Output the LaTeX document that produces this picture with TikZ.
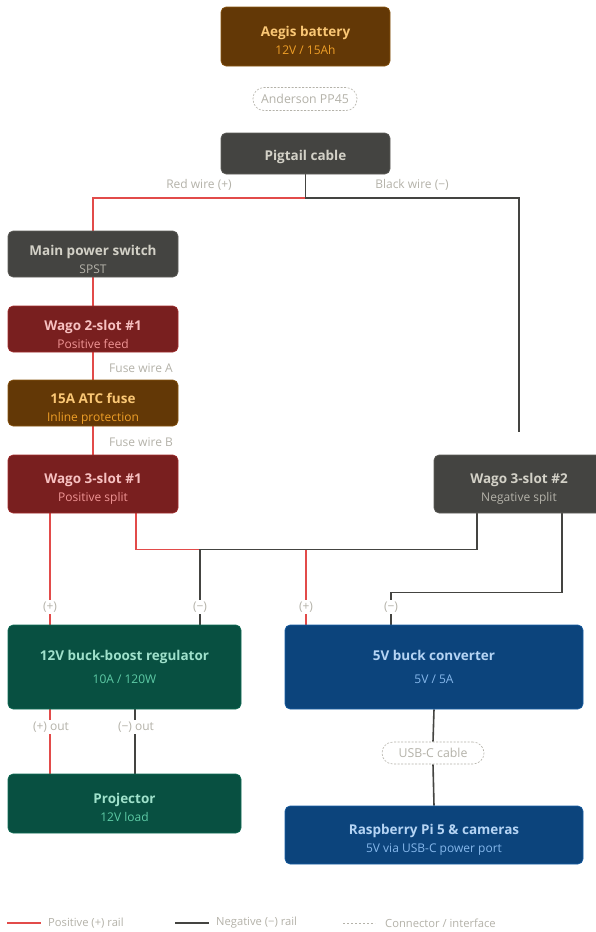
\documentclass[tikz,border=0pt]{standalone}
\usepackage{fontspec}
\setmainfont{Open Sans}
\usetikzlibrary{backgrounds,calc}
\definecolor{redline}{HTML}{E24B4A}
\definecolor{blkline}{HTML}{444441}
\definecolor{lbl}{HTML}{B4B2A9}
\definecolor{brownF}{HTML}{633806}\definecolor{brownD}{HTML}{8A5510}
\definecolor{brownT}{HTML}{FAC775}\definecolor{brownS}{HTML}{EF9F27}
\definecolor{grayF}{HTML}{444441}\definecolor{grayD}{HTML}{5F5E5A}
\definecolor{grayT}{HTML}{D3D1C7}\definecolor{grayS}{HTML}{B4B2A9}
\definecolor{redF}{HTML}{791F1F}\definecolor{redD}{HTML}{A32D2D}
\definecolor{redT}{HTML}{F7C1C1}\definecolor{redS}{HTML}{F09595}
\definecolor{greenF}{HTML}{085041}\definecolor{greenD}{HTML}{0F6E56}
\definecolor{greenT}{HTML}{9FE1CB}\definecolor{greenS}{HTML}{5DCAA5}
\definecolor{blueF}{HTML}{0C447C}\definecolor{blueD}{HTML}{185FA5}
\definecolor{blueT}{HTML}{B5D4F4}\definecolor{blueS}{HTML}{85B7EB}
% #1 title colour, #2 sub colour, #3 title, #4 sub, #5 gap, #6 top strut
\newcommand\bxt[6]{{\color{#1}\fontsize{13.5}{15}\selectfont\bfseries\rule{0pt}{#6}#3}\\[#5]{\color{#2}\fontsize{12}{13}\selectfont #4}}
\begin{document}
\begin{tikzpicture}[x=1pt,y=-1pt,
  box/.style={rounded corners=5pt, inner sep=0pt, align=center, line width=0.6pt,
    font=\fontsize{12}{13}\selectfont},
  brownbox/.style={box, fill=brownF, draw=brownD},
  graybox/.style={box, fill=grayF, draw=grayD},
  redbox/.style={box, fill=redF, draw=redD},
  greenbox/.style={box, fill=greenF, draw=greenD},
  bluebox/.style={box, fill=blueF, draw=blueD},
  pill/.style={draw=lbl, fill=white, rounded corners=11pt, dash pattern=on 2pt off 1.5pt,
    line width=0.6pt, text=lbl, font=\fontsize{12.3}{13}\selectfont, inner sep=0pt},
  lab/.style={fill=white, text=lbl, font=\fontsize{12}{13}\selectfont, inner sep=1.5pt},
  plainlab/.style={text=lbl, font=\fontsize{12}{13}\selectfont, inner sep=0pt},
  posrail/.style={draw=redline, line width=1.6pt},
  negrail/.style={draw=blkline, line width=1.6pt},
  legtext/.style={text=lbl, font=\fontsize{11.2}{12}\selectfont, inner sep=0pt, anchor=west}
]
\useasboundingbox (0,0) rectangle (596,932);
\clip (0,0) rectangle (596,932);

% boxes
\node[brownbox, minimum width=169pt, minimum height=59pt] (bat) at (305.5,36.5)
  {\bxt{brownT}{brownS}{Aegis battery}{12V / 15Ah}{5pt}{18pt}};
\node[pill, minimum width=104pt, minimum height=23pt] (and) at (305,99) {Anderson PP45};
\node[graybox, minimum width=169pt, minimum height=41pt] (pig) at (305.5,153.5)
  {{\color{grayT}\fontsize{13.5}{15}\selectfont\bfseries\rule{0pt}{18pt}Pigtail cable}};
\node[graybox, minimum width=170pt, minimum height=46pt] (sw) at (93,254)
  {\bxt{grayT}{grayS}{Main power switch}{SPST}{5pt}{22pt}};
\node[redbox, minimum width=170pt, minimum height=46pt] (w2) at (93,329)
  {\bxt{redT}{redS}{Wago 2-slot \#1}{Positive feed}{5pt}{22pt}};
\node[brownbox, minimum width=170pt, minimum height=46pt] (fuse) at (93,403)
  {\bxt{brownT}{brownS}{15A ATC fuse}{Inline protection}{5.5pt}{22pt}};
\node[redbox, minimum width=170pt, minimum height=58pt] (w3) at (93,484)
  {\bxt{redT}{redS}{Wago 3-slot \#1}{Positive split}{5pt}{20pt}};
\node[graybox, minimum width=170pt, minimum height=58pt] (w4) at (519,484)
  {\bxt{grayT}{grayS}{Wago 3-slot \#2}{Negative split}{5pt}{20pt}};
\node[greenbox, minimum width=233pt, minimum height=84pt] (reg) at (124.5,667)
  {\bxt{greenT}{greenS}{12V buck-boost regulator}{10A / 120W}{10pt}{0pt}};
\node[bluebox, minimum width=298pt, minimum height=84pt] (buck) at (434,667)
  {\bxt{blueT}{blueS}{5V buck converter}{5V / 5A}{10pt}{0pt}};
\node[greenbox, minimum width=233pt, minimum height=59pt] (proj) at (124.5,803.5)
  {\bxt{greenT}{greenS}{Projector}{12V load}{5pt}{18pt}};
\node[pill, minimum width=102pt, minimum height=22pt] (usb) at (433,753) {USB-C cable};
\node[bluebox, minimum width=298pt, minimum height=58pt] (rpi) at (434,835)
  {\bxt{blueT}{blueS}{Raspberry Pi 5 \& cameras}{5V via USB-C power port}{5pt}{19pt}};

% wire labels
\node[plainlab] (lred) at (199,185) {Red wire (+)};
\node[plainlab] (lblk) at (412,185) {Black wire (−)};
\node[plainlab] (lfa) at (141,368) {Fuse wire A};
\node[plainlab] (lfb) at (141,442) {Fuse wire B};
\node[lab] (lp1) at (50,607) {(+)};
\node[lab] (ln1) at (200,607) {(−)};
\node[lab] (lp2) at (306,607) {(+)};
\node[lab] (ln2) at (391,607) {(−)};
\node[lab] (lpo) at (51,727) {(+) out};
\node[lab] (lno) at (136,727) {(−) out};

% junctions
\coordinate (junc) at (pig.south |- 0,198);
\coordinate (blkend) at (519,432);

\begin{pgfonlayer}{background}
\fill[white] (0,0) rectangle (596,932);
% positive rail
\draw[posrail] (junc) -| (sw.north);
\draw[posrail] (sw.south) -- (w2.north);
\draw[posrail] (w2.south) -- (fuse.north);
\draw[posrail] (fuse.south) -- (w3.north);
\draw[posrail] ([xshift=42pt]w3.south west) -- ([xshift=42pt]reg.north west);
\draw[posrail] ([xshift=128pt]w3.south west) -- ++(0,36) -| ([xshift=21pt]buck.north west);
\draw[posrail] ([xshift=42pt]reg.south west) -- ([xshift=42pt]proj.north west);
% negative rail
\draw[negrail] (pig.south) -- (junc) -| (blkend);
\draw[negrail] ([xshift=43pt]w4.south west) -- ++(0,36) -| ([xshift=192pt]reg.north west);
\draw[negrail] ([xshift=128pt]w4.south west) -- ++(0,79) -| ([xshift=106pt]buck.north west);
\draw[negrail] ([xshift=127pt]reg.south west) -- ([xshift=127pt]proj.north west);
\draw[negrail] (buck.south) -- (usb.north);
\draw[negrail] (usb.south) -- (rpi.north);
\end{pgfonlayer}

% legend
\coordinate (lg1a) at (7,923); \coordinate (lg1b) at (41,923);
\draw[posrail, line width=2pt] (lg1a) -- (lg1b);
\node[legtext] (lgt1) at (48,923) {Positive (+) rail};
\coordinate (lg2a) at (175,923); \coordinate (lg2b) at (209,923);
\draw[negrail, line width=2pt] (lg2a) -- (lg2b);
\node[legtext] (lgt2) at (216,923) {Negative (−) rail};
\coordinate (lg3a) at (343,923); \coordinate (lg3b) at (375,923);
\draw[draw=lbl, line width=0.8pt, dash pattern=on 2pt off 2pt] (lg3a) -- (lg3b);
\node[legtext] (lgt3) at (385,923) {Connector / interface};
\end{tikzpicture}
\end{document}
